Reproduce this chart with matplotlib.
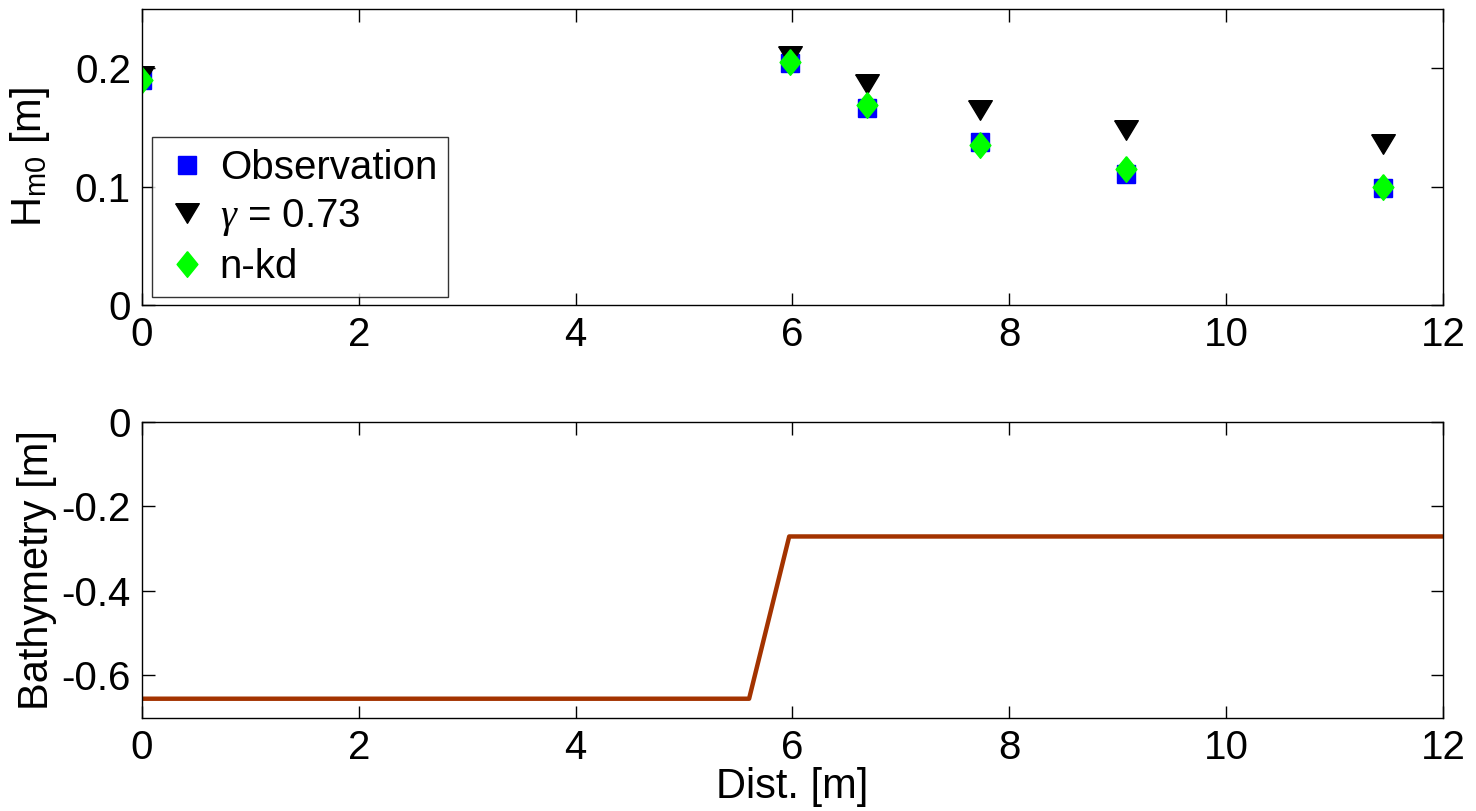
import matplotlib
matplotlib.use('Agg')
import matplotlib.pyplot as plt

# wave height along the flume
dist_obs = [0.0, 5.98, 6.69, 7.73, 9.08, 11.45]
hm0_obs = [0.190, 0.204, 0.166, 0.138, 0.111, 0.099]
hm0_gamma = [0.193, 0.210, 0.187, 0.165, 0.148, 0.136]
hm0_nkd = [0.190, 0.205, 0.169, 0.135, 0.115, 0.100]

# bottom profile
bath_x = [0.0, 5.6, 5.97, 12.0]
bath_z = [-0.655, -0.655, -0.271, -0.271]

xticks = [0, 2, 4, 6, 8, 10, 12]

plt.rcParams['font.family'] = ['Liberation Sans', 'DejaVu Sans']
plt.rcParams['mathtext.fontset'] = 'custom'
plt.rcParams['mathtext.rm'] = 'Liberation Sans'
plt.rcParams['mathtext.it'] = 'Liberation Serif:italic'
plt.rcParams['axes.unicode_minus'] = False

fs = 29
lfs = 30

fig = plt.figure(figsize=(14.76, 8.11), dpi=100)
ax1 = fig.add_axes([0.0962, 0.6239, 0.8814, 0.3650])
ax2 = fig.add_axes([0.0962, 0.1150, 0.8814, 0.3647])

# MATLAB-like marker shapes
tri_down = [(-1, 0.83), (1, 0.83), (0, -0.83), (-1, 0.83)]
diamond = [(0, 1), (0.81, 0), (0, -1), (-0.81, 0), (0, 1)]

ax1.plot(dist_obs, hm0_obs, linestyle='none', marker='s', ms=13,
         mfc='#0000ff', mec='#0000ff', mew=1, label='Observation')
ax1.plot(dist_obs, hm0_gamma, linestyle='none', marker=tri_down, ms=17,
         mfc='black', mec='black', mew=1, label=r'$\gamma$ = 0.73')
ax1.plot(dist_obs, hm0_nkd, linestyle='none', marker=diamond, ms=18.5,
         mfc='#00ff00', mec='#00ff00', mew=1, label='n-kd')

ax1.set_xlim(0, 12)
ax1.set_ylim(0, 0.25)
ax1.set_xticks(xticks)
ax1.set_yticks([0, 0.1, 0.2])
ax1.set_yticklabels(['0', '0.1', '0.2'])
ax1.set_ylabel(r'H$_{\mathrm{m0}}$ [m]', fontsize=lfs)
ax1.yaxis.set_label_coords(-0.069, 0.5)

leg = ax1.legend(loc='lower left', bbox_to_anchor=(0.0077, 0.027),
                 borderaxespad=0, fontsize=fs, frameon=True, fancybox=False,
                 handletextpad=0.2, labelspacing=0.25, borderpad=0.28,
                 handlelength=1.2)
leg.get_frame().set_edgecolor('black')
leg.get_frame().set_linewidth(1)

ax2.plot(bath_x, bath_z, color='#a33300', linewidth=3.2)
ax2.set_xlim(0, 12)
ax2.set_ylim(-0.7, 0)
ax2.set_xticks(xticks)
ax2.set_yticks([0, -0.2, -0.4, -0.6])
ax2.set_yticklabels(['0', '-0.2', '-0.4', '-0.6'])
ax2.set_ylabel('Bathymetry [m]', fontsize=lfs)
ax2.yaxis.set_label_coords(-0.065, 0.5)
ax2.set_xlabel('Dist. [m]', fontsize=lfs, labelpad=0)

for ax in (ax1, ax2):
    ax.tick_params(direction='in', length=9, width=1, top=True, right=True,
                   labelsize=fs, pad=8, colors='black')
    for sp in ax.spines.values():
        sp.set_linewidth(1)
        sp.set_color('black')

fig.savefig('out.png', dpi=100)
